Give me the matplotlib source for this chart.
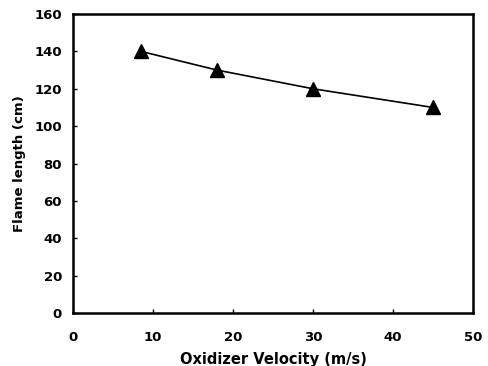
import matplotlib
matplotlib.use('Agg')
import matplotlib.pyplot as plt

# oxidizer velocity (m/s) vs flame length (cm)
velocity = [8.5, 18, 30, 45]
flame_length = [140, 130, 120, 110]

xticks = [0, 10, 20, 30, 40, 50]
yticks = [0, 20, 40, 60, 80, 100, 120, 140, 160]

plt.rcParams['font.family'] = ['DejaVu Sans']
plt.rcParams['font.weight'] = 'bold'

fig = plt.figure(figsize=(4.88, 3.66), dpi=100)
ax = fig.add_axes([0.1496, 0.1448, 0.8197, 0.8169])

ax.plot(velocity, flame_length, color='black', lw=1.2,
        marker='^', markersize=10.5, markerfacecolor='black', markeredgecolor='black')

ax.set_xlim(0, 50)
ax.set_ylim(0, 160)
ax.set_xticks(xticks)
ax.set_yticks(yticks)
ax.tick_params(direction='in', length=3, width=1, labelsize=9.5)
ax.tick_params(axis='y', pad=8)
ax.tick_params(axis='x', pad=13)
for s in ax.spines.values():
    s.set_linewidth(1.8)

ax.set_xlabel('Oxidizer Velocity (m/s)', fontsize=10.5, fontweight='bold', labelpad=6)
ax.set_ylabel('Flame length (cm)', fontsize=9.5, fontweight='bold', labelpad=6)

fig.savefig('out.png', dpi=100)
